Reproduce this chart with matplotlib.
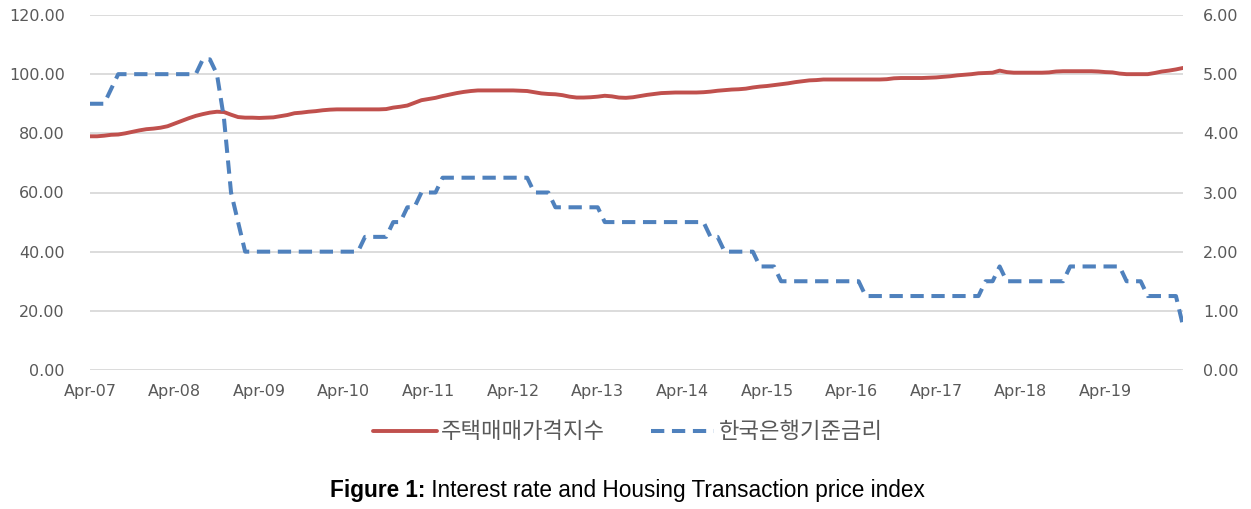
import matplotlib
matplotlib.use("Agg")
import matplotlib.pyplot as plt
import numpy as np

# ---- data (monthly, Apr-2007 .. Mar-2020) ----
tick_labels = ["Apr-07", "Apr-08", "Apr-09", "Apr-10", "Apr-11", "Apr-12", "Apr-13",
               "Apr-14", "Apr-15", "Apr-16", "Apr-17", "Apr-18", "Apr-19"]

housing_index = [
    79.0, 79.0, 79.2, 79.5, 79.6, 80.0, 80.5, 81.0, 81.4, 81.6, 81.9, 82.4,   # Apr-07..Mar-08
    83.3, 84.2, 85.1, 85.9, 86.5, 87.0, 87.3, 87.2, 86.3, 85.5, 85.3, 85.3,   # Apr-08..Mar-09
    85.2, 85.3, 85.4, 85.8, 86.2, 86.8, 87.0, 87.3, 87.5, 87.8, 88.0, 88.1,   # Apr-09..Mar-10
    88.1, 88.1, 88.1, 88.1, 88.1, 88.1, 88.2, 88.7, 89.0, 89.4, 90.3, 91.2,   # Apr-10..Mar-11
    91.6, 92.0, 92.6, 93.1, 93.6, 94.0, 94.3, 94.5, 94.5, 94.5, 94.5, 94.5,   # Apr-11..Mar-12
    94.5, 94.4, 94.3, 93.9, 93.5, 93.3, 93.2, 92.9, 92.4, 92.1, 92.1, 92.2,   # Apr-12..Mar-13
    92.4, 92.7, 92.5, 92.1, 92.0, 92.2, 92.6, 93.0, 93.3, 93.6, 93.7, 93.8,   # Apr-13..Mar-14
    93.8, 93.8, 93.8, 93.9, 94.1, 94.4, 94.6, 94.8, 94.9, 95.1, 95.5, 95.8,   # Apr-14..Mar-15
    96.0, 96.3, 96.6, 96.9, 97.3, 97.6, 97.9, 98.0, 98.2, 98.2, 98.2, 98.2,   # Apr-15..Mar-16
    98.2, 98.2, 98.2, 98.2, 98.2, 98.3, 98.6, 98.7, 98.7, 98.7, 98.7, 98.8,   # Apr-16..Mar-17
    98.9, 99.1, 99.3, 99.6, 99.8, 100.0, 100.3, 100.4, 100.5, 101.2, 100.7, 100.5,  # Apr-17..Mar-18
    100.5, 100.5, 100.5, 100.5, 100.6, 100.9, 101.0, 101.0, 101.0, 101.0, 101.0, 100.9,  # Apr-18..Mar-19
    100.7, 100.6, 100.2, 100.0, 100.0, 100.0, 100.0, 100.4, 100.9, 101.2, 101.6, 102.1,  # Apr-19..Mar-20
]

base_rate = [
    4.50, 4.50, 4.50, 4.75, 5.00, 5.00, 5.00, 5.00, 5.00, 5.00, 5.00, 5.00,   # Apr-07..Mar-08
    5.00, 5.00, 5.00, 5.00, 5.25, 5.25, 5.00, 4.25, 3.00, 2.50, 2.00, 2.00,   # Apr-08..Mar-09
    2.00, 2.00, 2.00, 2.00, 2.00, 2.00, 2.00, 2.00, 2.00, 2.00, 2.00, 2.00,   # Apr-09..Mar-10
    2.00, 2.00, 2.00, 2.25, 2.25, 2.25, 2.25, 2.50, 2.50, 2.75, 2.75, 3.00,   # Apr-10..Mar-11
    3.00, 3.00, 3.25, 3.25, 3.25, 3.25, 3.25, 3.25, 3.25, 3.25, 3.25, 3.25,   # Apr-11..Mar-12
    3.25, 3.25, 3.25, 3.00, 3.00, 3.00, 2.75, 2.75, 2.75, 2.75, 2.75, 2.75,   # Apr-12..Mar-13
    2.75, 2.50, 2.50, 2.50, 2.50, 2.50, 2.50, 2.50, 2.50, 2.50, 2.50, 2.50,   # Apr-13..Mar-14
    2.50, 2.50, 2.50, 2.50, 2.25, 2.25, 2.00, 2.00, 2.00, 2.00, 2.00, 1.75,   # Apr-14..Mar-15
    1.75, 1.75, 1.50, 1.50, 1.50, 1.50, 1.50, 1.50, 1.50, 1.50, 1.50, 1.50,   # Apr-15..Mar-16
    1.50, 1.50, 1.25, 1.25, 1.25, 1.25, 1.25, 1.25, 1.25, 1.25, 1.25, 1.25,   # Apr-16..Mar-17
    1.25, 1.25, 1.25, 1.25, 1.25, 1.25, 1.25, 1.50, 1.50, 1.75, 1.50, 1.50,   # Apr-17..Mar-18
    1.50, 1.50, 1.50, 1.50, 1.50, 1.50, 1.50, 1.75, 1.75, 1.75, 1.75, 1.75,   # Apr-18..Mar-19
    1.75, 1.75, 1.75, 1.50, 1.50, 1.50, 1.25, 1.25, 1.25, 1.25, 1.25, 0.75,   # Apr-19..Mar-20
]

series_names = ["주택매매가격지수", "한국은행기준금리"]
left_ticks = [0, 20, 40, 60, 80, 100, 120]
right_ticks = [0, 1, 2, 3, 4, 5, 6]
caption_bold = "Figure 1:"
caption_rest = " Interest rate and Housing Transaction price index"

# ---- figure ----
W, H = 1251, 509
fig = plt.figure(figsize=(W / 100, H / 100), dpi=100)
ax = fig.add_axes([90 / W, 1 - 370 / H, (1183 - 90) / W, (370 - 15) / H])
ax2 = ax.twinx()

x = np.arange(len(housing_index))
red = "#C0504D"
blue = "#4F81BD"
grid_c = "#D9D9D9"
txt_c = "#595959"

ax.plot(x, housing_index, color=red, lw=2.8, solid_capstyle="round", solid_joinstyle="round",
        label=series_names[0], zorder=3)
ln2, = ax2.plot(x, base_rate, color=blue, lw=2.9, dashes=(3.3, 1.9), dash_capstyle="butt",
                dash_joinstyle="round", label=series_names[1], zorder=3)

ax.set_xlim(0, len(housing_index) - 1)
ax.set_ylim(0, 120)
ax2.set_ylim(0, 6)
ax.set_yticks(left_ticks)
ax2.set_yticks(right_ticks)
ax.set_yticklabels([f"{v:.2f}" for v in left_ticks])
ax2.set_yticklabels([f"{v:.2f}" for v in right_ticks])
ax.set_xticks(np.arange(0, len(housing_index), 12)[:len(tick_labels)])
ax.set_xticklabels(tick_labels)

for a in (ax, ax2):
    for s in a.spines.values():
        s.set_visible(False)
    a.tick_params(length=0, colors=txt_c, labelsize=11.5)
    for lab in a.get_xticklabels() + a.get_yticklabels():
        lab.set_family("DejaVu Sans")
ax.tick_params(axis="y", pad=18)
ax2.tick_params(axis="y", pad=14.5)
ax.tick_params(axis="x", pad=10)

ax.set_axisbelow(True)
ax.grid(axis="y", color=grid_c, lw=1.3)
ax.grid(axis="x", visible=False)

h1, l1 = ax.get_legend_handles_labels()
leg = fig.legend(h1 + [ln2], l1 + [series_names[1]], loc="center",
                 bbox_to_anchor=(628 / W, 1 - 432 / H), ncol=2, frameon=False,
                 handlelength=2.85, handletextpad=0.2, columnspacing=2.05,
                 prop={"family": ["Noto Sans CJK KR", "DejaVu Sans"], "size": 16})
for t in leg.get_texts():
    t.set_color(txt_c)

# caption: bold prefix + regular remainder, centred as a whole
fam = ["Liberation Sans", "DejaVu Sans"]
renderer = fig.canvas.get_renderer()
cy = 1 - 490 / H
t1 = fig.text(0, cy, caption_bold, fontsize=16.3, fontweight="bold", family=fam,
              va="center", ha="left", color="black")
t2 = fig.text(0, cy, caption_rest, fontsize=16.3, family=fam, va="center", ha="left",
              color="black")
w1 = t1.get_window_extent(renderer).width
w2 = t2.get_window_extent(renderer).width
x0 = 627.5 - (w1 + w2) / 2
t1.set_x(x0 / W)
t2.set_x((x0 + w1) / W)

fig.savefig("out.png", dpi=100)
